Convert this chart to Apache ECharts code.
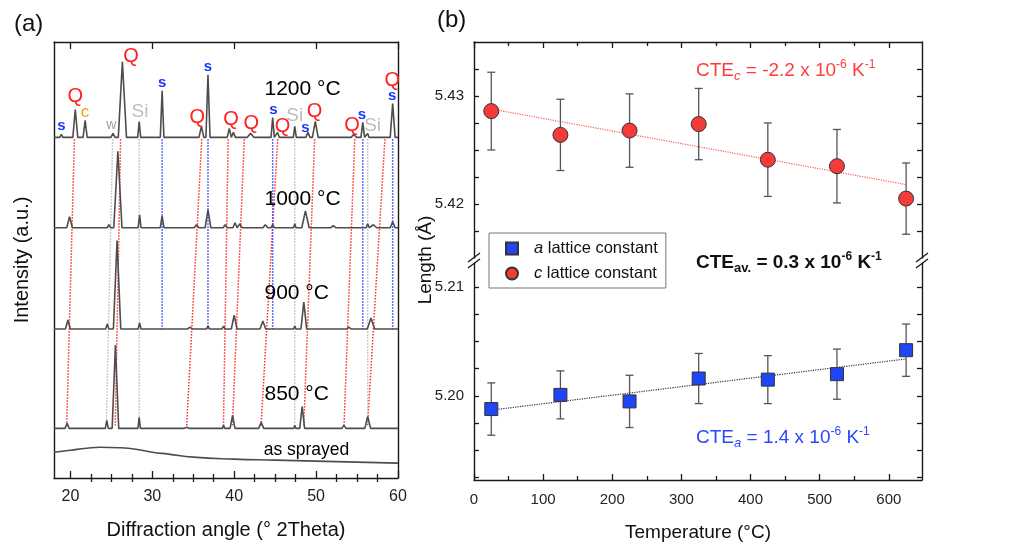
<!DOCTYPE html>
<html>
<head>
<meta charset="utf-8">
<script src="https://cdn.jsdelivr.net/npm/echarts@6/dist/echarts.min.js"></script>
<style>
html, body { margin: 0; padding: 0; background: #fff; }
#chart { width: 1035px; height: 545px; }
</style>
</head>
<body>
<div id="chart"></div>
<script>
const FONT = "'Liberation Sans', Arial, sans-serif";

// ---- (a) XRD patterns: [2theta, height, half width] per peak, levels in a.u.
const patternNames = ['1200 °C', '1000 °C', '900 °C', '850 °C'];
const baseLevels = [343, 252, 150, 50];
const peaks1200 = [[18.9, 3, 0.2], [20.6, 28, 0.3], [21.8, 17, 0.25], [25.2, 4, 0.25], [26.35, 76, 0.5],
  [28.4, 16, 0.18], [31.2, 47, 0.22], [36.0, 11, 0.3], [36.8, 63, 0.25], [39.4, 9, 0.25], [39.9, 5, 0.25],
  [42.0, 4, 0.4], [44.7, 20, 0.2], [45.3, 5, 0.2], [47.4, 11, 0.18], [49.0, 5, 0.25], [49.9, 16, 0.35],
  [54.6, 3, 0.3], [55.7, 15, 0.22], [56.3, 4, 0.15], [59.35, 34, 0.3]];
const peaks1000 = [[19.9, 11, 0.35], [24.7, 3, 0.2], [25.8, 77, 0.5], [28.45, 13, 0.18], [31.2, 12, 0.22],
  [35.4, 3, 0.3], [36.8, 18, 0.35], [38.9, 3, 0.25], [40.1, 5, 0.25], [40.7, 4, 0.25], [43.8, 3, 0.3],
  [44.7, 3, 0.2], [47.4, 4, 0.15], [48.7, 17, 0.45], [52.1, 2, 0.3], [56.3, 4, 0.2], [57.0, 3, 0.4],
  [59.35, 6, 0.3]];
const peaks900 = [[19.7, 9, 0.3], [23.2, 2, 0.15], [24.5, 5, 0.2], [25.7, 89, 0.45], [28.45, 6, 0.18],
  [31.2, 2, 0.2], [34.6, 2, 0.3], [36.8, 3, 0.2], [38.7, 3, 0.2], [40.0, 14, 0.35], [43.5, 8, 0.35],
  [47.4, 3, 0.15], [48.5, 27, 0.35], [52.8, 2, 0.2], [54.0, 2, 0.3], [56.7, 11, 0.45], [59.35, 2, 0.2]];
const peaks850 = [[19.6, 5, 0.25], [22.9, 1, 0.2], [24.45, 8, 0.18], [25.5, 84, 0.4], [28.4, 11, 0.15],
  [34.2, 1, 0.3], [38.7, 3, 0.15], [39.8, 13, 0.3], [43.3, 6, 0.3], [47.4, 3, 0.12], [48.3, 22, 0.3],
  [52.7, 2, 0.15], [53.4, 3, 0.25], [56.3, 12, 0.35]];
const patternPeaks = [peaks1200, peaks1000, peaks900, peaks850];
const asSprayed = [[18, 26], [20, 28], [22, 30], [23.6, 31], [26, 30.5], [28, 29], [30, 26], [32, 24],
  [35, 21], [40, 19], [45, 18], [50, 17], [55, 16], [60, 15]];
const tempLabelPos = [[43.7, 391], [43.7, 281], [43.7, 186], [43.7, 84]];
const asSprayedLabelPos = [43.6, 28];

// phase tags over the 1200 °C pattern: [2theta, level, tag]
const peakTags = [[18.9, 355, 's'], [20.6, 384, 'Q'], [21.8, 368, 'c'], [25.0, 355, 'w'], [27.4, 424, 'Q'],
  [28.5, 369, 'Si'], [31.2, 398, 's'], [35.5, 363, 'Q'], [36.8, 414, 's'], [39.6, 361, 'Q'], [42.1, 357, 'Q'],
  [44.8, 371, 's'], [45.9, 354, 'Q'], [47.4, 365, 'Si'], [48.7, 353, 's'], [49.8, 369, 'Q'], [54.4, 355, 'Q'],
  [55.6, 366, 's'], [56.9, 355, 'Si'], [59.3, 400, 'Q'], [59.3, 385, 's']];

// guide lines: [2theta at top, 2theta at bottom]
const quartzGuides = [[20.49, 19.55], [26.13, 25.48], [36.04, 34.2], [39.26, 38.69], [41.23, 39.79],
  [45.31, 43.28], [49.82, 48.5], [54.72, 53.41], [58.4, 56.28]];
const sGuides = [31.2, 36.8, 44.7, 55.7, 59.35];
const greyGuides = [[25.16, 24.4], [28.4, 28.4], [47.4, 47.4], [56.3, 56.3]];
const guideTop = 341, guideBottom = 53, sGuideBottom = 150;

// ---- (b) lattice constants
const temps = [25, 125, 225, 325, 425, 525, 625];
const cVals = [5.4286, 5.4264, 5.4268, 5.4274, 5.4241, 5.4235, 5.4205];
const cErr = [0.0036, 0.0033, 0.0034, 0.0033, 0.0034, 0.0034, 0.0033];
const aVals = [5.1988, 5.2001, 5.1995, 5.2016, 5.2015, 5.2020, 5.2042];
const aErr = [0.0024, 0.0022, 0.0024, 0.0023, 0.0022, 0.0023, 0.0024];
const fitC = [[25, 5.4288], [625, 5.4218]];
const fitA = [[25, 5.1987], [625, 5.2034]];

const chart = echarts.init(document.getElementById('chart'));

function buildCurve(base, peaks) {
  const pts = [[18, base]];
  peaks.forEach(p => {
    pts.push([p[0] - p[2], base]);
    pts.push([p[0], base + p[1]]);
    pts.push([p[0] + p[2], base]);
  });
  pts.push([60, base]);
  return pts;
}

const tagStyle = {
  Q: { color: '#ff2020', fontSize: 20 },
  s: { color: '#1535ff', fontSize: 15, fontWeight: 'bold' },
  Si: { color: '#bdbdbd', fontSize: 19 },
  c: { color: '#f09a10', fontSize: 17 },
  w: { color: '#a0a0a0', fontSize: 14 }
};

const frame = { show: true, onZero: false, lineStyle: { color: '#1a1a1a', width: 1.4 } };
const noAxisLine = { show: false };

function guideSeries(data, color) {
  return {
    type: 'line', xAxisIndex: 0, yAxisIndex: 0, data: data, showSymbol: false, silent: true, z: 1,
    lineStyle: { color: color, width: 1.5, type: 'dotted' }
  };
}

const series = [];
quartzGuides.forEach(g => series.push(guideSeries([[g[0], guideTop], [g[1], guideBottom]], '#ff2b2b')));
sGuides.forEach(g => series.push(guideSeries([[g, guideTop], [g, sGuideBottom]], '#2a40ff')));
greyGuides.forEach(g => series.push(guideSeries([[g[0], guideTop], [g[1], 55]], '#bdbdbd')));

patternPeaks.forEach((pk, i) => {
  series.push({
    type: 'line', xAxisIndex: 0, yAxisIndex: 0, data: buildCurve(baseLevels[i], pk),
    showSymbol: false, silent: true, z: 3,
    lineStyle: { color: '#4d4d4d', width: 1.6 }
  });
});
series.push({
  type: 'line', xAxisIndex: 0, yAxisIndex: 0, data: asSprayed, smooth: true,
  showSymbol: false, silent: true, z: 3, lineStyle: { color: '#4d4d4d', width: 1.6 }
});

// text labels in panel (a)
const plainLabel = { show: true, position: 'inside', fontFamily: FONT, opacity: 1,
  textBorderWidth: 0, textBorderColor: 'transparent', textShadowBlur: 0 };
const textItems = peakTags.map(t => ({
  value: [t[0], t[1]],
  label: Object.assign({}, plainLabel, { formatter: t[2] }, tagStyle[t[2]])
}));
tempLabelPos.forEach((p, i) => textItems.push({
  value: p,
  label: Object.assign({}, plainLabel, { formatter: patternNames[i], align: 'left', fontSize: 21, color: '#000' })
}));
textItems.push({
  value: asSprayedLabelPos,
  label: Object.assign({}, plainLabel, { formatter: 'as sprayed', align: 'left', fontSize: 17.5, color: '#000' })
});
series.push({
  type: 'scatter', xAxisIndex: 0, yAxisIndex: 0, data: textItems, symbolSize: 1,
  itemStyle: { color: 'rgba(255,255,255,0)' }, silent: true, z: 5
});

// panel (b)
function errorBars(xs, ys, es, xi, yi) {
  return {
    type: 'custom', xAxisIndex: xi, yAxisIndex: yi, silent: true, z: 2,
    data: xs.map((x, i) => [x, ys[i], es[i]]),
    encode: { x: 0, y: 1 },
    renderItem: function (params, api) {
      const x = api.value(0), y = api.value(1), e = api.value(2);
      const hi = api.coord([x, y + e]), lo = api.coord([x, y - e]);
      const w = 4;
      const st = { stroke: '#555', lineWidth: 1.3 };
      return {
        type: 'group',
        children: [
          { type: 'line', shape: { x1: hi[0], y1: hi[1], x2: lo[0], y2: lo[1] }, style: st },
          { type: 'line', shape: { x1: hi[0] - w, y1: hi[1], x2: hi[0] + w, y2: hi[1] }, style: st },
          { type: 'line', shape: { x1: lo[0] - w, y1: lo[1], x2: lo[0] + w, y2: lo[1] }, style: st }
        ]
      };
    }
  };
}
series.push(errorBars(temps, cVals, cErr, 4, 2));
series.push(errorBars(temps, aVals, aErr, 6, 4));
series.push({
  type: 'line', xAxisIndex: 4, yAxisIndex: 2, data: fitC, showSymbol: false, silent: true, z: 1,
  lineStyle: { color: '#ff5a5a', width: 1.2, type: 'dotted' }
});
series.push({
  type: 'line', xAxisIndex: 6, yAxisIndex: 4, data: fitA, showSymbol: false, silent: true, z: 1,
  lineStyle: { color: '#333', width: 1.2, type: 'dotted' }
});
series.push({
  name: 'a lattice constant', type: 'scatter', xAxisIndex: 6, yAxisIndex: 4, z: 4,
  data: temps.map((t, i) => [t, aVals[i]]), symbol: 'rect', symbolSize: 13,
  itemStyle: { color: '#1f45f5', borderColor: '#333', borderWidth: 1, opacity: 1 }
});
series.push({
  name: 'c lattice constant', type: 'scatter', xAxisIndex: 4, yAxisIndex: 2, z: 4,
  data: temps.map((t, i) => [t, cVals[i]]), symbol: 'circle', symbolSize: 15,
  itemStyle: { color: '#f53a3a', borderColor: '#333', borderWidth: 1, opacity: 1 }
});

const twoTheta = { type: 'value', gridIndex: 0, min: 18, max: 60, splitLine: { show: false } };
const tempAxis = { type: 'value', min: 0, max: 648, splitLine: { show: false } };
const majorT = [0, 100, 200, 300, 400, 500, 600];
const minorT = [50, 150, 250, 350, 450, 550];
const majorA = [20, 30, 40, 50, 60];
const minorA = [22.5, 25, 27.5, 32.5, 35, 37.5, 42.5, 45, 47.5, 52.5, 55, 57.5];
const tickLine = { color: '#1a1a1a', width: 1.3 };
const lbl = { color: '#222', fontSize: 16, fontFamily: FONT };

function cteText(sub, value, color, bold) {
  const fw = bold ? 'bold' : 'normal';
  return {
    text: '{n|CTE}{s|' + sub + '}{n| = ' + value + ' x 10}{p|-6}{n| K}{p|-1}',
    textStyle: {
      rich: {
        n: { fontSize: 19, color: color, fontFamily: FONT, fontWeight: fw, lineHeight: 24 },
        s: { fontSize: 13, color: color, fontFamily: FONT, fontWeight: fw, fontStyle: bold ? 'normal' : 'italic',
          verticalAlign: 'bottom', lineHeight: 13 },
        p: { fontSize: 12, color: color, fontFamily: FONT, fontWeight: fw, verticalAlign: 'top', lineHeight: 12 }
      }
    }
  };
}

const option = {
  animation: false,
  backgroundColor: '#fff',
  textStyle: { fontFamily: FONT },
  title: [
    { text: '(a)', left: 14, top: 12, padding: 0, textStyle: { fontSize: 24, fontWeight: 'normal', color: '#111', fontFamily: FONT } },
    { text: '(b)', left: 437, top: 8, padding: 0, textStyle: { fontSize: 24, fontWeight: 'normal', color: '#111', fontFamily: FONT } },
    Object.assign({ left: 696, top: 59, padding: 0 }, cteText('c', '-2.2', '#ff3b3b', false)),
    Object.assign({ left: 696, top: 251, padding: 0 }, cteText('av.', '0.3', '#111', true)),
    Object.assign({ left: 696, top: 426, padding: 0 }, cteText('a', '1.4', '#2a48ff', false))
  ],
  legend: {
    data: [{ name: 'a lattice constant', icon: 'rect' }, { name: 'c lattice constant', icon: 'circle' }],
    orient: 'vertical', left: 489, top: 233, padding: [7, 8, 6, 16], itemGap: 8,
    itemWidth: 12, itemHeight: 12, borderColor: '#777', borderWidth: 1, borderRadius: 0,
    selectedMode: false,
    formatter: n => '{i|' + n.charAt(0) + '}' + n.slice(1),
    textStyle: { fontSize: 16.5, color: '#111', fontFamily: FONT, padding: [0, 0, 0, 11],
      rich: { i: { fontSize: 16.5, fontStyle: 'italic', color: '#111', fontFamily: FONT } } }
  },
  grid: [
    { left: 54, top: 42, width: 344, height: 439 },
    { left: 474, top: 42, width: 448, height: 216 },
    { left: 474, top: 263, width: 448, height: 217 }
  ],
  xAxis: [
    Object.assign({}, twoTheta, {
      position: 'bottom', axisLine: frame,
      axisTick: { inside: true, length: 7, customValues: majorA, lineStyle: tickLine },
      axisLabel: Object.assign({ customValues: majorA, margin: 11 }, lbl),
      name: 'Diffraction angle (° 2Theta)', nameLocation: 'middle', nameGap: 42,
      nameTextStyle: { fontSize: 20, color: '#111', fontFamily: FONT }
    }),
    Object.assign({}, twoTheta, {
      position: 'bottom', axisLine: noAxisLine,
      axisTick: { inside: true, length: 4, customValues: minorA, lineStyle: tickLine }, axisLabel: { show: false }
    }),
    Object.assign({}, twoTheta, {
      position: 'top', axisLine: frame,
      axisTick: { inside: true, length: 7, customValues: majorA, lineStyle: tickLine }, axisLabel: { show: false }
    }),
    Object.assign({}, twoTheta, {
      position: 'top', axisLine: noAxisLine,
      axisTick: { inside: true, length: 4, customValues: minorA, lineStyle: tickLine }, axisLabel: { show: false }
    }),
    Object.assign({}, tempAxis, {
      gridIndex: 1, position: 'top', axisLine: frame,
      axisTick: { inside: true, length: 6, customValues: majorT, lineStyle: tickLine }, axisLabel: { show: false }
    }),
    Object.assign({}, tempAxis, {
      gridIndex: 1, position: 'top', axisLine: noAxisLine,
      axisTick: { inside: true, length: 4, customValues: minorT, lineStyle: tickLine }, axisLabel: { show: false }
    }),
    Object.assign({}, tempAxis, {
      gridIndex: 2, position: 'bottom', axisLine: frame,
      axisTick: { inside: true, length: 6, customValues: majorT, lineStyle: tickLine },
      axisLabel: Object.assign({ customValues: majorT, margin: 12 }, lbl, { fontSize: 15 }),
      name: 'Temperature (°C)', nameLocation: 'middle', nameGap: 43,
      nameTextStyle: { fontSize: 19, color: '#111', fontFamily: FONT }
    }),
    Object.assign({}, tempAxis, {
      gridIndex: 2, position: 'bottom', axisLine: noAxisLine,
      axisTick: { inside: true, length: 4, customValues: minorT, lineStyle: tickLine }, axisLabel: { show: false }
    })
  ],
  yAxis: [
    { type: 'value', gridIndex: 0, min: 0, max: 439, position: 'left', axisLine: frame,
      axisTick: { show: false }, axisLabel: { show: false }, splitLine: { show: false },
      name: 'Intensity (a.u.)', nameLocation: 'middle', nameGap: 22,
      nameTextStyle: { fontSize: 20, color: '#111', fontFamily: FONT } },
    { type: 'value', gridIndex: 0, min: 0, max: 439, position: 'right', axisLine: frame,
      axisTick: { show: false }, axisLabel: { show: false }, splitLine: { show: false } },
    { type: 'value', gridIndex: 1, min: 5.415, max: 5.435, position: 'left', axisLine: frame,
      axisTick: { inside: true, length: 5, customValues: [5.4175, 5.42, 5.4225, 5.425, 5.4275, 5.43, 5.4325], lineStyle: tickLine },
      axisLabel: Object.assign({ customValues: [5.42, 5.43], margin: 10, formatter: v => v.toFixed(2) }, lbl, { fontSize: 15 }),
      splitLine: { show: false } },
    { type: 'value', gridIndex: 1, min: 5.415, max: 5.435, position: 'right', axisLine: frame,
      axisTick: { inside: true, length: 5, customValues: [5.4175, 5.42, 5.4225, 5.425, 5.4275, 5.43, 5.4325], lineStyle: tickLine },
      axisLabel: { show: false }, splitLine: { show: false } },
    { type: 'value', gridIndex: 2, min: 5.19229, max: 5.2122, position: 'left', axisLine: frame,
      axisTick: { inside: true, length: 5, customValues: [5.1925, 5.195, 5.1975, 5.2, 5.2025, 5.205, 5.2075, 5.21], lineStyle: tickLine },
      axisLabel: Object.assign({ customValues: [5.2, 5.21], margin: 10, formatter: v => v.toFixed(2) }, lbl, { fontSize: 15 }),
      splitLine: { show: false } },
    { type: 'value', gridIndex: 2, min: 5.19229, max: 5.2122, position: 'right', axisLine: frame,
      axisTick: { inside: true, length: 5, customValues: [5.1925, 5.195, 5.1975, 5.2, 5.2025, 5.205, 5.2075, 5.21], lineStyle: tickLine },
      axisLabel: { show: false }, splitLine: { show: false } }
  ],
  graphic: [
    { type: 'text', x: 426, y: 260, rotation: Math.PI / 2, silent: true,
      style: { text: 'Length (Å)', font: '19px ' + FONT, fill: '#111', align: 'center', verticalAlign: 'middle' } },
    { type: 'line', silent: true, shape: { x1: 468, y1: 262, x2: 480, y2: 253 }, style: { stroke: '#1a1a1a', lineWidth: 1.3 } },
    { type: 'line', silent: true, shape: { x1: 468, y1: 268, x2: 480, y2: 259 }, style: { stroke: '#1a1a1a', lineWidth: 1.3 } },
    { type: 'line', silent: true, shape: { x1: 916, y1: 262, x2: 928, y2: 253 }, style: { stroke: '#1a1a1a', lineWidth: 1.3 } },
    { type: 'line', silent: true, shape: { x1: 916, y1: 268, x2: 928, y2: 259 }, style: { stroke: '#1a1a1a', lineWidth: 1.3 } }
  ],
  series: series
};

chart.setOption(option);
</script>
</body>
</html>
